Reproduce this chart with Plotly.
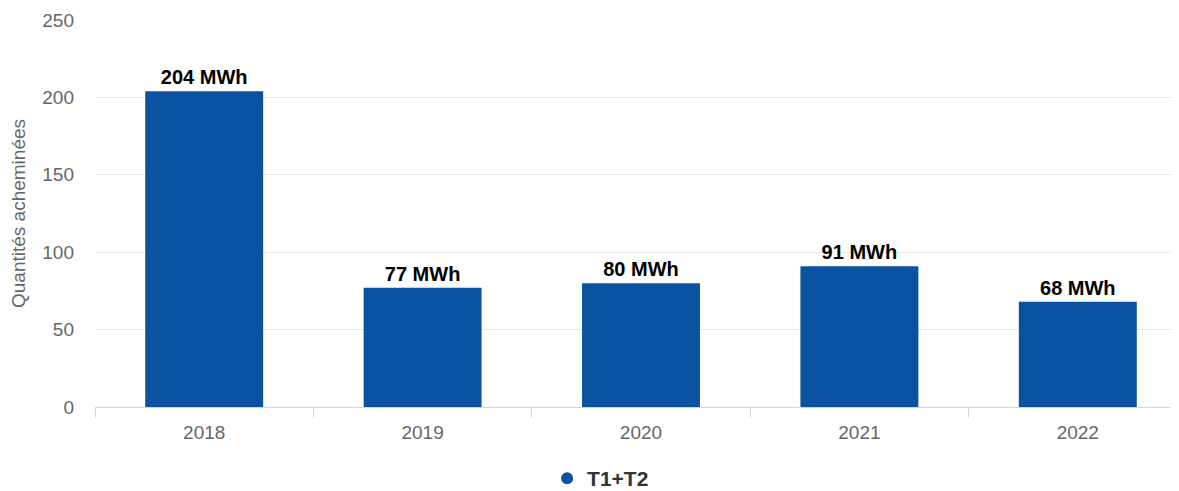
import plotly.graph_objects as go

years = ["2018", "2019", "2020", "2021", "2022"]
values = [204, 77, 80, 91, 68]
labels = ["204 MWh", "77 MWh", "80 MWh", "91 MWh", "68 MWh"]
series_name = "T1+T2"
y_title = "Quantités acheminées"
bar_color = "#0b52a0"

fig = go.Figure()
fig.add_trace(go.Bar(
    x=years, y=values, text=[f"<b>{t}</b>" for t in labels],
    textposition="outside", textfont=dict(color="#000000", size=20, family="Liberation Sans, Arial"),
    marker=dict(color=bar_color, line=dict(width=0)),
    cliponaxis=False, showlegend=False, name=series_name,
))
fig.add_trace(go.Scatter(
    x=[None], y=[None], mode="markers", name=f"<b>{series_name}</b>",
    marker=dict(color=bar_color, size=16, symbol="circle"), showlegend=True,
))

fig.update_layout(
    width=1179, height=491,
    margin=dict(l=87, r=0, t=12, b=92, autoexpand=False),
    plot_bgcolor="white", paper_bgcolor="white",
    font=dict(family="Liberation Sans, Arial", color="#666666", size=19),
    bargap=0.46,
    showlegend=True,
    legend=dict(orientation="h", x=0.463, xanchor="center", y=-0.132, yanchor="top",
                font=dict(size=21, color="#333333"), itemsizing="constant"),
    xaxis=dict(
        type="category", showline=True, linecolor="#ccd6eb", linewidth=1,
        ticks="outside", tickson="boundaries", ticklen=10, tickcolor="#ccd6eb",
        ticklabelstandoff=8,
        tickfont=dict(size=19, color="#666666"), showgrid=False, automargin=False,
    ),
    yaxis=dict(
        range=[0, 250], dtick=50, showgrid=True, gridcolor="#e6e6e6", gridwidth=1,
        zeroline=False, showline=False, ticks="", ticklabelstandoff=20,
        tickfont=dict(size=19, color="#666666"), automargin=False,
        title=dict(text=y_title, font=dict(size=19, color="#666666"), standoff=12),
    ),
)

fig.write_html("out.html")
